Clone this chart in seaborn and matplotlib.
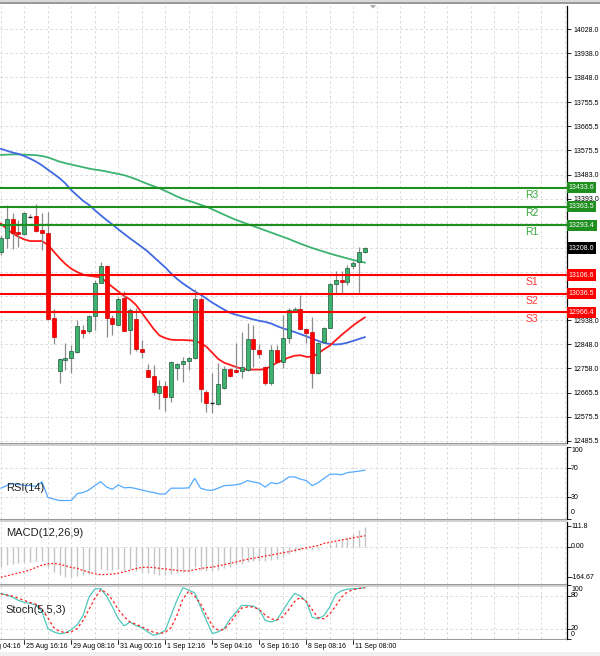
import numpy as np
import pandas as pd
import matplotlib
matplotlib.use("Agg")
import matplotlib.pyplot as plt
import matplotlib.transforms as mtrans
from matplotlib.patches import Rectangle, Polygon
import seaborn as sns

# ---------------- data ----------------
opens  = [13192,13247,13317,13267,13259,13325,13329,13275,13265,12944,12748,12789,12794,12819,12900,12898,12954,13078,13142,12947,
          12921,13019,12900,12940,12831,12751,12728,12665,12690,12650,12757,12773,12785,12794,13016,12669,12626,12623,12682,12753,
          12752,12745,12749,12866,12826,12763,12703,12826,12782,12869,12969,12979,12904,12894,12740,12856,12907,13073,13088,13082,
          13140,13154,13194]
highs  = [13255,13369,13339,13313,13344,13335,13373,13340,13342,12978,12795,12853,12844,12938,12919,12957,13088,13154,13144,12957,
          13025,13048,12983,12983,12863,12773,12769,12713,12709,12784,12776,12800,12800,13053,13025,12676,12738,12775,12764,12757,
          12850,12894,12926,12919,12848,12765,12844,12844,12957,12982,12988,13032,12908,12948,12857,12912,13078,13122,13122,13144,
          13160,13211,13213]
lows   = [13180,13207,13203,13213,13256,13323,13269,13200,12938,12848,12700,12749,12738,12815,12869,12888,12900,13077,12873,12880,
          12918,12898,12810,12822,12794,12724,12656,12603,12597,12632,12713,12706,12750,12791,12632,12594,12588,12619,12678,12726,
          12738,12719,12745,12763,12794,12694,12694,12776,12757,12851,12967,12903,12851,12682,12736,12855,12907,13038,13036,13070,
          13130,13041,13190]
closes = [13244,13317,13265,13259,13338,13326,13273,13265,12940,12873,12791,12795,12823,12915,12888,12953,13078,13142,12947,12922,
          13017,12898,12975,12831,12819,12726,12667,12690,12650,12782,12773,12784,12794,13016,12678,12626,12628,12697,12753,12728,
          12742,12760,12866,12829,12809,12701,12826,12782,12869,12976,12979,12903,12890,12740,12851,12907,13073,13088,13080,13132,
          13150,13194,13208]

ma_slow = [13557,13558,13559,13559,13558,13557,13556,13553,13548,13540,13532,13526,13521,13516,13511,13506,13502,13499,13495,13490,
           13486,13481,13474,13466,13457,13448,13440,13432,13422,13412,13401,13392,13385,13378,13370,13363,13353,13343,13333,13323,
           13314,13306,13298,13290,13282,13274,13266,13258,13250,13242,13233,13224,13216,13208,13201,13194,13187,13181,13175,13169,
           13163,13158,13153]
ma_mid  = [13580,13573,13566,13561,13553,13543,13532,13518,13502,13486,13470,13450,13425,13405,13385,13370,13350,13331,13313,13296,
           13278,13261,13244,13228,13212,13195,13175,13155,13135,13112,13092,13075,13060,13045,13033,13018,13003,12990,12977,12965,
           12958,12952,12946,12940,12935,12931,12925,12915,12907,12900,12893,12885,12877,12868,12860,12852,12848,12846,12848,12853,
           12860,12867,12874]
ma_fast = [13300,13280,13263,13250,13240,13234,13234,13234,13220,13195,13170,13148,13130,13118,13108,13104,13101,13098,13080,13062,
           13045,13028,13015,12995,12965,12935,12905,12880,12870,12864,12863,12863,12862,12860,12852,12838,12815,12792,12778,12770,
           12762,12755,12752,12752,12752,12753,12765,12778,12788,12797,12804,12806,12800,12800,12812,12828,12842,12862,12882,12900,
           12918,12934,12948]

res_levels = [13433.6, 13363.5, 13293.4]
res_names = ["R3", "R2", "R1"]
sup_levels = [13106.6, 13036.5, 12966.4]
sup_names = ["S1", "S2", "S3"]
last_price = 13208.0

price_ticks = [14028.0, 13938.0, 13848.0, 13755.5, 13665.5, 13575.5, 13483.0, 13393.0,
               12938.0, 12848.0, 12758.0, 12665.5, 12575.5, 12485.5]
grid_prices = [14028.0, 13938.0, 13848.0, 13755.5, 13665.5, 13575.5, 13483.0, 13393.0, 13300.5, 13208.0,
               13118.0, 13028.0, 12938.0, 12848.0, 12758.0, 12665.5, 12575.5, 12485.5]

rsi = [42.5,46,49,47.5,46.5,46,45,51.5,30,27.5,25.5,25.5,25.5,35,36.5,40,46,51.5,44,41,
       47,43,43.5,42,40,38,36.5,34.5,34.5,42.5,42.5,42.5,43,56,42.5,40,39.5,42.5,46,46.5,
       47,49,53,51,49.5,44,50,48.5,52,58,58,55,53,46,50,56,61.5,62,61,64,
       65,66,67.5]

macd_main = [-110,-100,-95,-90,-85,-80,-78,-75,-110,-135,-155,-165,-163,-158,-152,-147,-135,-120,-125,-128,
             -122,-125,-123,-130,-135,-142,-150,-152,-155,-145,-140,-135,-130,-108,-125,-130,-132,-125,-115,-108,
             -100,-92,-82,-78,-75,-78,-70,-65,-55,-40,-28,-20,-15,-18,-12,-2,15,28,40,52,
             70,90,108]
macd_signal = [-165,-158,-150,-142,-135,-125,-112,-100,-93,-90,-95,-103,-112,-117,-128,-138,-146,-151,-150,-148,
               -143,-136,-128,-118,-112,-111,-113,-117,-120,-124,-128,-131,-131,-125,-118,-113,-111,-104,-97,-90,
               -83,-75,-68,-62,-57,-51,-45,-39,-33,-27,-20,-13,-6,0,6,18,24,30,36,42,
               48,54,59]

stoch_k = [85,82,78,72,68.5,66.5,63.5,51.5,20,14,10.5,12,18,27,44,78,93,94,80,60,
           38,25,32,25.5,21.5,14,7.5,10.5,17,45,73,95.5,91,86,60,35,10.7,14,20,37,
           50,63,62.5,61.5,55,35,32.4,36,53,70,85,80,70,41,38,44,60,83,90,93,
           93.5,94.5,95.5]
stoch_d = [84,82,80,76,72,68,65,56,40,22,15,12.5,14,20,35,55,76,92,86,73,
           55,42,32,28,23.5,18,13,11,13,22,45,75,89,80,66,45,25,17,18,30,
           45,58,60,60,55,45,38,36,42,55,70,78,70,55,40,38,47,62,78,88,
           92,94,95.5]

date_labels = ["24 Aug 04:16", "25 Aug 16:16", "29 Aug 08:16", "31 Aug 00:16", "1 Sep 12:16",
               "5 Sep 04:16", "6 Sep 16:16", "8 Sep 08:16", "11 Sep 08:00"]
date_pos = [-4, 4, 12, 20, 28, 36, 44, 52, 60]

# ---------------- layout helpers ----------------
W, H = 600, 656
sns.set_style("white")
plt.rcParams['font.family'] = ['Liberation Sans', 'DejaVu Sans']

fig = plt.figure(figsize=(W / 100, H / 100), dpi=100)
fig.patch.set_facecolor("white")

PLOT_R = 567.0
STEP = 5.875
X0 = 0.8
xlim = (-X0 / STEP, (PLOT_R - X0) / STEP)


def rect(top, bot):
    return [0, 1 - bot / H, PLOT_R / W, (bot - top) / H]


def py(y):  # pixel y -> figure fraction
    return 1 - y / H


def px(x):
    return x / W


GRID_C = "#d4d4d4"
n = len(opens)
idx = np.arange(n)
vgrid = np.arange(0, 100, 4)


def style_axes(ax):
    ax.set_xlim(*xlim)
    ax.set_xticks([])
    for s in ["left", "top", "bottom"]:
        ax.spines[s].set_visible(False)
    ax.spines["right"].set_color("black")
    ax.spines["right"].set_linewidth(0.9)
    for v in vgrid:
        ax.axvline(v, color=GRID_C, lw=0.6, ls=(0, (3, 3)), zorder=0)
    ax.yaxis.tick_right()
    ax.tick_params(axis="y", direction="out", length=3, width=0.6, colors="black",
                   labelsize=5, pad=1.5)


# ---------------- main price panel ----------------
M_TOP, M_BOT = 6, 443
p_top = 13388 + 3.75 * (200 - M_TOP)
p_bot = 13388 - 3.75 * (M_BOT - 200)
ax = fig.add_axes(rect(M_TOP, M_BOT))
style_axes(ax)
ax.set_ylim(p_bot, p_top)
for gp in grid_prices:
    ax.axhline(gp, color=GRID_C, lw=0.6, ls=(0, (3, 3)), zorder=0)
ax.set_yticks(grid_prices)
ax.set_yticklabels([f"{v:.1f}" if v in price_ticks else "" for v in grid_prices])

# moving averages
df_ma = pd.DataFrame({"k": idx, "slow": ma_slow, "mid": ma_mid, "fast": ma_fast})
sns.lineplot(data=df_ma, x="k", y="slow", ax=ax, color="#3cb371", lw=1.3, zorder=3)
sns.lineplot(data=df_ma, x="k", y="mid", ax=ax, color="#4169e1", lw=1.3, zorder=3)
sns.lineplot(data=df_ma, x="k", y="fast", ax=ax, color="#ff1a1a", lw=1.3, zorder=3)
ax.set_xlabel("")
ax.set_ylabel("")

# candles
bw = 0.68
for k in range(n):
    o, h, l, c = opens[k], highs[k], lows[k], closes[k]
    ax.vlines(k, l, h, color="#8c8c8c", lw=0.9, zorder=4)
    up = c >= o
    fc = "#3cb371" if up else "#ff0000"
    ec = "#24573a" if up else "#d00000"
    lo, hi = min(o, c), max(o, c)
    if hi - lo < 3:
        ax.hlines((o + c) / 2, k - bw / 2, k + bw / 2, color="#202020" if up else "#d00000", lw=1.0, zorder=5)
    else:
        ax.add_patch(Rectangle((k - bw / 2, lo), bw, hi - lo, facecolor=fc, edgecolor=ec, lw=0.5, zorder=5))

# support / resistance
blend = mtrans.blended_transform_factory(ax.transAxes, ax.transData)
lab_k = (532 - X0) / STEP
for v, name in zip(res_levels, res_names):
    ax.axhline(v, color="#1f8f1f", lw=1.5, zorder=6)
    ax.text(lab_k, v - 26, name, color="#3aa83a", fontsize=7.5, ha="center", va="center", zorder=7)
    ax.text(1.003, v, f"{v:.1f}", transform=blend, color="white", fontsize=5, ha="left", va="center",
            bbox=dict(boxstyle="square,pad=0.3", fc="#1f8f1f", ec="none"), zorder=8, clip_on=False)
for v, name in zip(sup_levels, sup_names):
    ax.axhline(v, color="#ff0000", lw=1.5, zorder=6)
    ax.text(lab_k, v - 26, name, color="#ff3b3b", fontsize=7.5, ha="center", va="center", zorder=7)
    ax.text(1.003, v, f"{v:.1f}", transform=blend, color="white", fontsize=5, ha="left", va="center",
            bbox=dict(boxstyle="square,pad=0.3", fc="#ff0000", ec="none"), zorder=8, clip_on=False)
ax.text(1.003, last_price, f"{last_price:.1f}", transform=blend, color="white", fontsize=5, ha="left",
        va="center", bbox=dict(boxstyle="square,pad=0.3", fc="black", ec="none"), zorder=8, clip_on=False)

# ---------------- RSI panel ----------------
R_TOP, R_BOT = 446.5, 519
axr = fig.add_axes(rect(R_TOP, R_BOT))
style_axes(axr)
axr.set_ylim(0, 100)
for g in [70, 30]:
    axr.axhline(g, color=GRID_C, lw=0.6, ls=(0, (3, 3)), zorder=0)
sns.lineplot(x=idx, y=rsi, ax=axr, color="#55aaff", lw=0.9)
axr.set_yticks([100, 70, 30, 0])
axr.set_yticklabels([])
axr.text(0.01, 0.43, "RSI(14)", transform=axr.transAxes, fontsize=8, color="#222222", va="center")

# ---------------- MACD panel ----------------
C_TOP, C_BOT = 521.5, 584
def mv(y):
    return (546.7 - y) / 0.185
axm = fig.add_axes(rect(C_TOP, C_BOT))
style_axes(axm)
axm.set_ylim(mv(C_BOT), mv(C_TOP))
axm.axhline(0, color=GRID_C, lw=0.6, ls=(0, (3, 3)), zorder=0)
axm.vlines(idx, 0, macd_main, color="#c4c4c4", lw=1.0, zorder=2)
sns.lineplot(x=idx, y=macd_signal, ax=axm, color="#ff2020", lw=0.9, zorder=3)
axm.lines[-1].set_linestyle((0, (1.5, 1.5)))
axm.set_yticks([111.8, 0, -164.67])
axm.set_yticklabels([])
axm.text(0.01, 0.82, "MACD(12,26,9)", transform=axm.transAxes, fontsize=8, color="#222222", va="center")

# ---------------- Stoch panel ----------------
S_TOP, S_BOT = 585.3, 639.4
axs = fig.add_axes(rect(S_TOP, S_BOT))
style_axes(axs)
axs.set_ylim(0, 100)
for g in [80, 20]:
    axs.axhline(g, color=GRID_C, lw=0.6, ls=(0, (3, 3)), zorder=0)
sns.lineplot(x=idx, y=stoch_k, ax=axs, color="#4fc9bd", lw=0.9, zorder=3)
sns.lineplot(x=idx, y=stoch_d, ax=axs, color="#ff2020", lw=0.9, zorder=3)
axs.lines[-1].set_linestyle((0, (2, 2)))
axs.set_yticks([100, 80, 20, 0])
axs.set_yticklabels([])
axs.text(0.01, 0.55, "Stoch(5,5,3)", transform=axs.transAxes, fontsize=8, color="#222222", va="center")

for a in (axr, axm, axs):
    a.set_xlabel("")
    a.set_ylabel("")

# right-side labels of sub panels (pixel placement like the terminal)
sub_labels = [("100", 450), ("70", 468.3), ("30", 497.3), ("0", 512.7),
              ("111.8", 526), ("0.00", 546.7), ("-164.67", 577.7),
              ("100", 589.5), ("80", 595.5), ("20", 628), ("0", 634)]
for s, y in sub_labels:
    fig.text(px(571), py(y), s, fontsize=5, ha="left", va="center", color="black")

# ---------------- separators / frame ----------------
def band(y1, y2, color, width=PLOT_R / W):
    fig.add_artist(Rectangle((0, py(y2)), width, (y2 - y1) / H, transform=fig.transFigure,
                             facecolor=color, edgecolor="none", zorder=10))

band(0.5, 2.0, "#d9d9d9", 1.0)
band(2.0, 4.0, "#9a9a9a", 1.0)
for y in (M_BOT, R_BOT, C_BOT):
    band(y, y + 1.2, "#9a9a9a")
    band(y + 1.2, y + 2.5, "#d0d0d0")
band(S_BOT, S_BOT + 1.0, "#9a9a9a")

# small chart-shift marker
fig.add_artist(Polygon([[px(370), py(5)], [px(376), py(5)], [px(373), py(8.5)]], closed=True,
                       transform=fig.transFigure, facecolor="#a8a8a8", edgecolor="none", zorder=11))

# ---------------- date axis ----------------
for lab, k in zip(date_labels, date_pos):
    x = X0 + STEP * k
    fig.add_artist(plt.Line2D([px(x), px(x)], [py(S_BOT + 1), py(S_BOT + 4.5)], transform=fig.transFigure,
                              color="black", lw=0.6))
    fig.text(px(x + 1.5), py(647), lab, fontsize=5, ha="left", va="center", color="black")

# light strip at the very bottom
fig.add_artist(Rectangle((0, 0), 1, 4.5 / H, transform=fig.transFigure, facecolor="#f0f0f0",
                         edgecolor="none", zorder=0))

fig.savefig("out.png", dpi=100)
